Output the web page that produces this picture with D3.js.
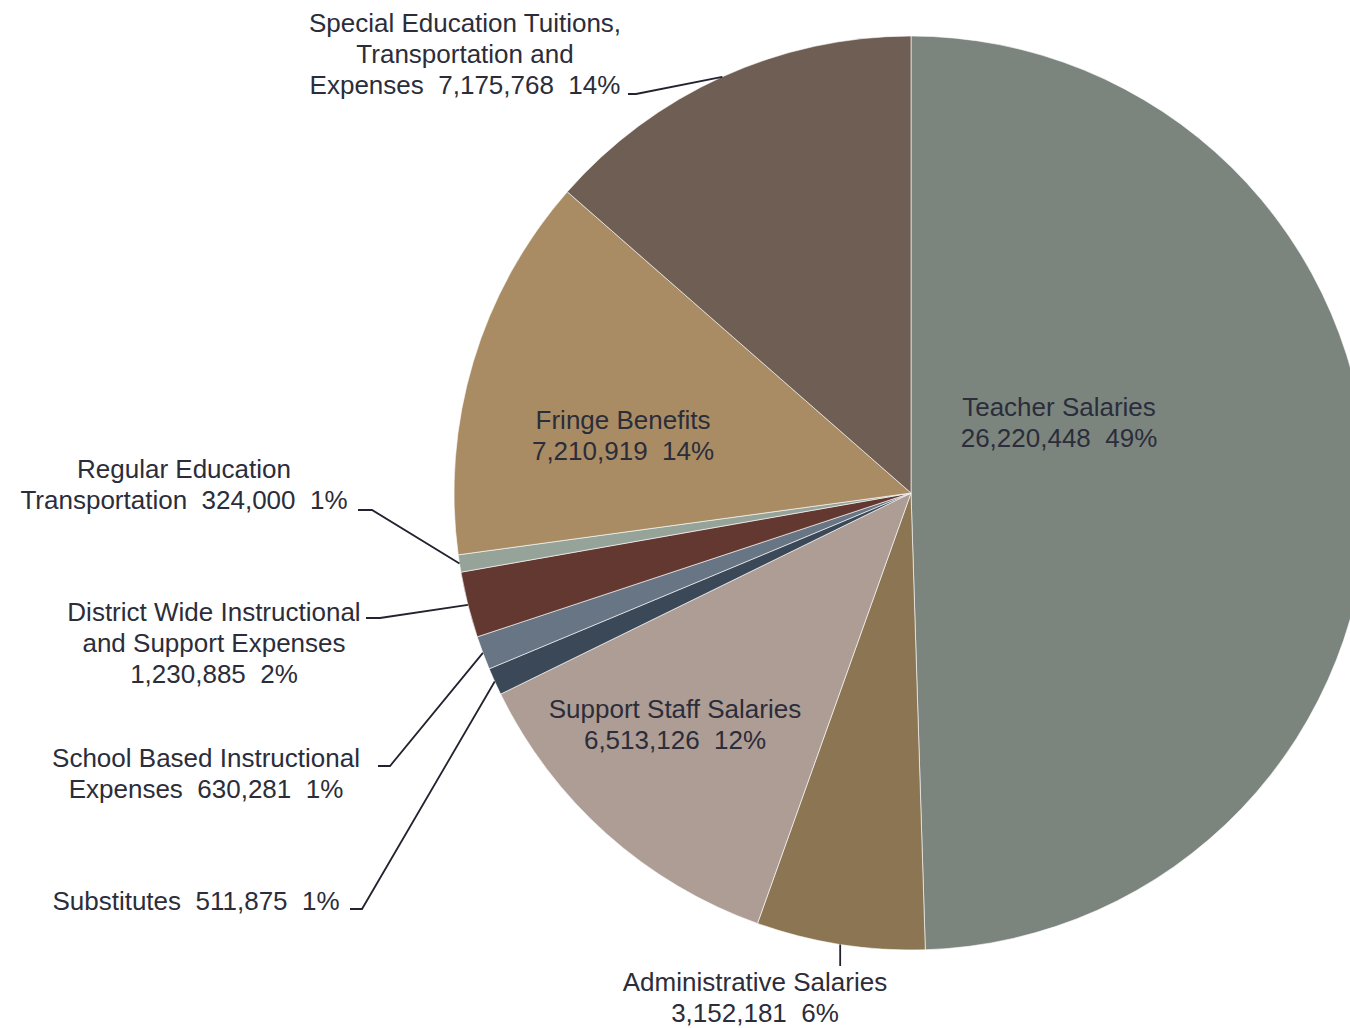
<!DOCTYPE html>
<html>
<head>
<meta charset="utf-8">
<script src="https://cdn.jsdelivr.net/npm/d3@7"></script>
<style>
	body { margin: 0; background: #fff; }
	text { font-family: "Liberation Sans", Arial, sans-serif; fill: #2b2d3a; }
</style>
</head>
<body>
<svg id="piechart"></svg>
<script>
// slices clockwise from 12 o'clock
const categories = [
	'Teacher Salaries',
	'Administrative Salaries',
	'Support Staff Salaries',
	'Substitutes',
	'School Based Instructional Expenses',
	'District Wide Instructional and Support Expenses',
	'Regular Education Transportation',
	'Fringe Benefits',
	'Special Education Tuitions, Transportation and Expenses'
];
const amounts = [26220448, 3152181, 6513126, 511875, 630281, 1230885, 324000, 7210919, 7175768];
const percents = ['49%', '6%', '12%', '1%', '1%', '2%', '1%', '14%', '14%'];
const amountLabels = ['26,220,448', '3,152,181', '6,513,126', '511,875', '630,281', '1,230,885', '324,000', '7,210,919', '7,175,768'];
// label text lines; last line gets amount + percent appended
const labelLines = [
	['Teacher Salaries', ''],
	['Administrative Salaries', ''],
	['Support Staff Salaries', ''],
	['Substitutes'],
	['School Based Instructional', 'Expenses'],
	['District Wide Instructional', 'and Support Expenses', ''],
	['Regular Education', 'Transportation'],
	['Fringe Benefits', ''],
	['Special Education Tuitions,', 'Transportation and', 'Expenses']
];
const colors = ['#7b857e', '#8b7552', '#ad9d94', '#3b4858', '#687584', '#633830', '#95a398', '#a98c63', '#6f5e53'];

// layout: label centre x, first line y, and leader elbow (null = label inside slice)
const layout = [
	{ x: 1059, y: 407, elbow: null },
	{ x: 755, y: 982, elbow: 'vertical', end: [0, 966] },
	{ x: 675, y: 709, elbow: null },
	{ x: 196, y: 901, elbow: [362, 909], end: [350, 909] },
	{ x: 206, y: 758, elbow: [390, 766], end: [378, 766] },
	{ x: 214, y: 612, elbow: [380, 618], end: [366, 618] },
	{ x: 184, y: 469, elbow: [372, 510], end: [358, 510] },
	{ x: 623, y: 420, elbow: null },
	{ x: 465, y: 23, elbow: [636, 94], end: [628, 94] }
];

function makeChart() {
	let w = 1350;
	let h = 1028;
	let cx = 911, cy = 493, r = 457;

	let chart = d3.select('#piechart')
		.attr('width', w)
		.attr('height', h);

	let data = categories.map((c, i) => ({ name: c, value: amounts[i], i: i }));
	let pie = d3.pie().sort(null).value(d => d.value);
	let arc = d3.arc().innerRadius(0).outerRadius(r);
	let arcs = pie(data);

	let g = chart.append('g').attr('transform', `translate(${cx},${cy})`);

	g.selectAll('path')
		.data(arcs)
		.enter()
		.append('path')
		.attr('d', arc)
		.style('fill', d => colors[d.data.i])
		.style('stroke', 'rgba(255,255,255,0.6)')
		.style('stroke-width', 1);

	// leader lines
	arcs.forEach(d => {
		let lay = layout[d.data.i];
		if (!lay.elbow) return;
		let mid = (d.startAngle + d.endAngle) / 2;
		let px = cx + r * Math.sin(mid);
		let py = cy - r * Math.cos(mid);
		let pts = lay.elbow === 'vertical'
			? [[px, py], [px, lay.end[1]]]
			: [[px, py], lay.elbow, lay.end];
		chart.append('polyline')
			.attr('points', pts.map(p => p.join(',')).join(' '))
			.style('fill', 'none')
			.style('stroke', '#22232e')
			.style('stroke-width', 1.8);
	});

	// labels
	data.forEach((d, i) => {
		let lay = layout[i];
		let lines = labelLines[i].slice();
		let last = lines.length - 1;
		lines[last] = (lines[last] ? lines[last] + '  ' : '') + amountLabels[i] + '  ' + percents[i];
		let t = chart.append('text')
			.attr('x', lay.x)
			.attr('y', lay.y + 9)
			.attr('xml:space', 'preserve')
			.style('font-size', '26px')
			.style('text-anchor', 'middle');
		lines.forEach((ln, k) => {
			t.append('tspan')
				.attr('x', lay.x)
				.attr('y', lay.y + 9 + k * 31)
				.text(ln);
		});
	});
}

window.onload = function () {
	makeChart();
}
</script>
</body>
</html>
